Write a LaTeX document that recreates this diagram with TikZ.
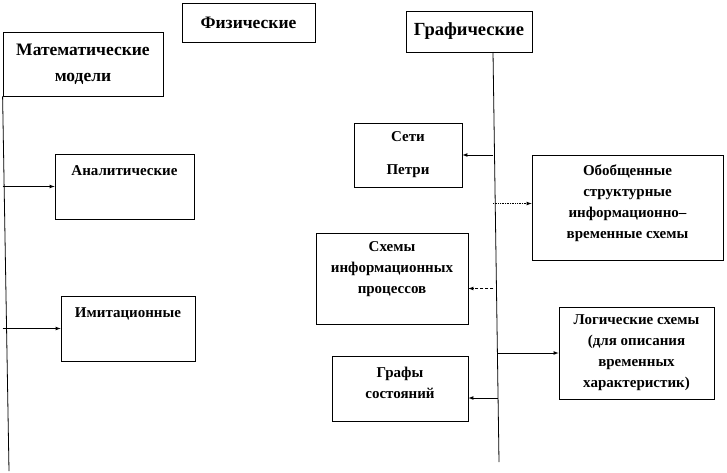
\documentclass[tikz,border=0pt]{standalone}
\usepackage{fontspec}
\setmainfont{Liberation Serif}
\usetikzlibrary{arrows,calc}
\tikzset{
  box/.style={rectangle, draw=black!100, line width=0.8pt, align=center, inner sep=2pt, font=\bfseries\fontsize{15}{21}\selectfont},
  head/.style={box, font=\bfseries\fontsize{17.5}{26}\selectfont},
  connect/.style={-latex, line width=0.7pt}
}

\begin{document}
\begin{tikzpicture}[x=1pt,y=-1pt]
  \useasboundingbox (0,0) rectangle (727,472);

  % Top level: the three kinds of models
  \node[head, minimum width=133, minimum height=39] (Fiz) at (248.5,22.5) {Физические};
  \node[head, minimum width=160, minimum height=64] (Mat) at (83,64) {Математические\\модели};
  \node[head, minimum width=126, minimum height=41, font=\bfseries\fontsize{18.5}{26}\selectfont] (Graf) at (469,31.5) {Графические};

  % Mathematical models
  \node[box, minimum width=139, minimum height=65] (Anal) at (124.5,186.5) {Аналитические\\[10pt]~};
  \node[box, minimum width=134, minimum height=65] (Imit) at (128,328.5) {Имитационные\\[10pt]~};
  \coordinate (MatEnd) at (9,471);
  \draw[line width=0.8pt] (Mat.south west) -- (MatEnd);
  \draw[connect] (Mat.south west |- Anal.west) -- (Anal.west);
  \draw[connect] (Mat.south west |- Imit.west) -- (Imit.west);

  % Graphical models
  \node[box, minimum width=108, minimum height=64] (Seti) at (408,155) {Сети\\[12pt]Петри};
  \node[box, minimum width=191, minimum height=105] (Obob) at (627.5,207.5) {Обобщенные\\структурные\\информационно–\\временные схемы\\[-10pt]~};
  \node[box, minimum width=152, minimum height=91] (Skhem) at (392,278.5) {Схемы\\информационных\\процессов\\~};
  \node[box, minimum width=155, minimum height=92] (Log) at (636.5,353) {Логические схемы\\(для описания\\временных\\характеристик)};
  \node[box, minimum width=136, minimum height=65] (Grafy) at (400,388.5) {Графы\\состояний\\[-10pt]~};

  \coordinate (GrafTop) at (493,52);
  \coordinate (GrafEnd) at (499,462);
  \draw[line width=0.8pt] (GrafTop) -- (GrafEnd);
  \draw[connect] (GrafTop |- Seti.east) -- (Seti.east);
  \draw[connect, densely dotted] ([yshift=4pt]GrafTop |- Obob.west) -- ([yshift=4pt]Obob.west);
  \draw[connect, densely dashed] ([xshift=25pt,yshift=-10pt]Skhem.east) -- ([yshift=-10pt]Skhem.east);
  \draw[connect] ([xshift=4pt]GrafTop |- Log.west) -- (Log.west);
  \draw[connect] ([xshift=5pt,yshift=-9.5pt]GrafTop |- Grafy.east) -- ([yshift=-9.5pt]Grafy.east);
\end{tikzpicture}
\end{document}
